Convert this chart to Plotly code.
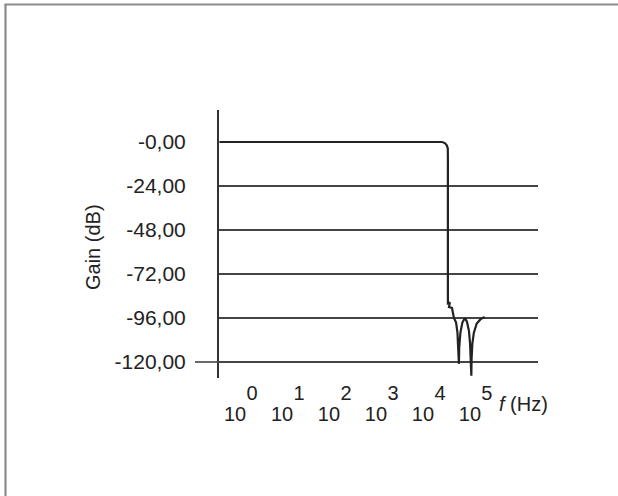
import plotly.graph_objects as go

# ---- data ----
freq_hz = [0.33, 18000, 20800, 22800, 24000, 24100, 24100, 26600, 25400, 29400, 32400,
           36000, 38500, 39800, 40400, 41400, 42000, 44500, 49000, 55600,
           61300, 67600, 71500, 74000, 74800, 76000, 77000, 80000, 86000, 99000, 121000, 146000]
gain_db = [0, 0, -0.6, -1.8, -3.5, -10, -88, -87.5, -90, -90.5, -96,
           -98.5, -104, -112, -121, -121, -112, -104, -98.5, -96,
           -98, -103, -110, -118, -127.5, -127.5, -118, -110, -104, -99, -96.5, -95.5]

y_tick_vals = [0, -24, -48, -72, -96, -120]
y_tick_text = ["-0,00", "-24,00", "-48,00", "-72,00", "-96,00", "-120,00"]
grid_vals = [-24, -48, -72, -96, -120]

x_tick_vals = [1, 10, 100, 1000, 10000, 100000]
x_base_text = ["10", "10", "10", "10", "10", "10"]
x_exp_text = ["0", "1", "2", "3", "4", "5"]

FONT = "Liberation Sans, Arial, sans-serif"
INK = "#222222"

# plot area in pixels: x 219..538, y 110..378
L, R, T, B = 219, 80, 110, 118
W, H = 618, 496
pw, ph = W - L - R, H - T - B

def px(x):
    return (x - L) / pw

def py(y):
    return (H - B - y) / ph

yrange = [-128.73, 17.45]
xrange_log = [-0.49, 6.30]

fig = go.Figure()
fig.add_trace(go.Scatter(x=freq_hz, y=gain_db, mode="lines",
                         line=dict(color=INK, width=2.2), showlegend=False,
                         hoverinfo="skip", xaxis="x", yaxis="y"))

fig.update_layout(
    width=W, height=H,
    margin=dict(l=L, r=R, t=T, b=B),
    paper_bgcolor="white", plot_bgcolor="white",
    font=dict(family=FONT, size=20, color=INK),
    xaxis=dict(type="log", range=xrange_log, tickmode="array",
               tickvals=x_tick_vals, ticktext=x_base_text,
               showgrid=False, zeroline=False, showline=False, ticks="",
               ticklabelshift=-7, ticklabelstandoff=22,
               tickfont=dict(size=20, family=FONT, color=INK)),
    xaxis2=dict(type="log", range=xrange_log, overlaying="x", side="bottom", anchor="y",
                tickmode="array", tickvals=x_tick_vals, ticktext=x_exp_text,
                showgrid=False, zeroline=False, showline=False, ticks="",
                ticklabelshift=10, ticklabelstandoff=1,
                tickfont=dict(size=20, family=FONT, color=INK)),
    yaxis=dict(range=yrange, tickmode="array", tickvals=y_tick_vals, ticktext=y_tick_text,
               showgrid=False, zeroline=False, showline=True, linecolor="#333333",
               linewidth=2, ticks="", ticklabelstandoff=27,
               tickfont=dict(size=21, family=FONT, color=INK)),
    yaxis2=dict(range=yrange, overlaying="y", side="left", anchor="x",
                tickmode="array", tickvals=grid_vals, showticklabels=False,
                showgrid=True, gridcolor="#444444", gridwidth=1.6,
                zeroline=False, showline=False, ticks=""),
    shapes=[
        # stub of -120 line left of the axis
        dict(type="line", xref="paper", yref="y", x0=px(195), x1=0, y0=-120, y1=-120,
             line=dict(color="#444444", width=1.6)),
        # outer frame (left and top)
        dict(type="line", xref="paper", yref="paper", x0=px(5.5), x1=px(5.5),
             y0=py(4.5), y1=py(H + 5), line=dict(color="#8a8a8a", width=2.2)),
        dict(type="line", xref="paper", yref="paper", x0=px(4.5), x1=px(W + 5),
             y0=py(4.5), y1=py(4.5), line=dict(color="#8a8a8a", width=2.2)),
    ],
    annotations=[
        dict(text="Gain (dB)", xref="paper", yref="paper", x=px(93), y=py(247),
             xanchor="center", yanchor="middle", textangle=-90, showarrow=False,
             font=dict(size=20, family=FONT, color=INK)),
        dict(text="<i>f</i> (Hz)", xref="paper", yref="paper", x=px(497), y=py(404),
             xanchor="left", yanchor="middle", showarrow=False,
             font=dict(size=20, family=FONT, color=INK)),
    ],
)

# dummy trace so xaxis2/yaxis2 are drawn
fig.add_trace(go.Scatter(x=[x_tick_vals[0]], y=[grid_vals[0]], mode="markers",
                         marker=dict(opacity=0), showlegend=False, hoverinfo="skip",
                         xaxis="x2", yaxis="y2"))

fig.write_html("out.html")
